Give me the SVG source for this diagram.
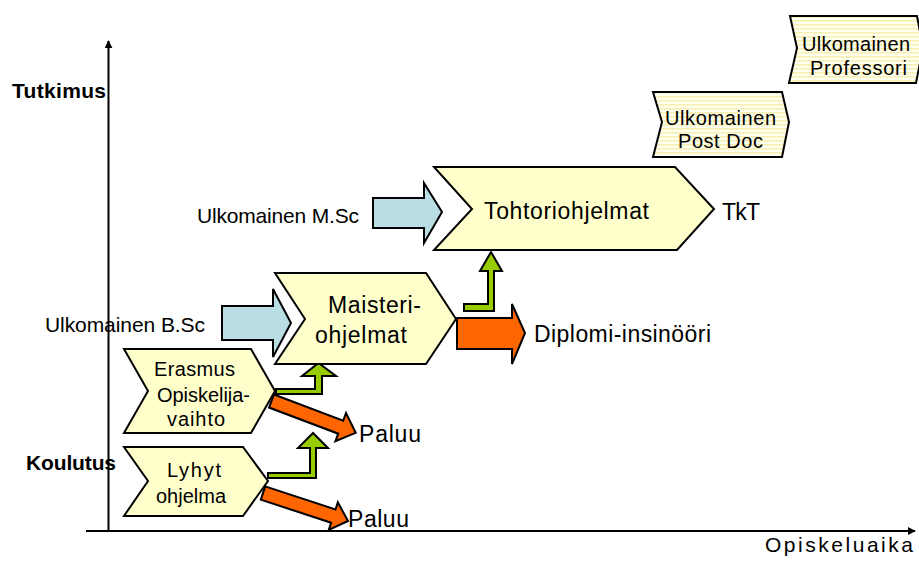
<svg xmlns="http://www.w3.org/2000/svg" width="919" height="564" viewBox="0 0 919 564">
<style>
text{font-family:"Liberation Sans",Arial,sans-serif;fill:#000}
.lbl{font-size:21px}
.sm{font-size:20px}
.big{font-size:23px}
.bold{font-size:21px;font-weight:bold}
.chev{fill:#FFFFCC;stroke:#000;stroke-width:2;stroke-linejoin:miter}
.strip{fill:url(#stripes);stroke:#000;stroke-width:2}
.blue{fill:#B8DEE4;stroke:#000;stroke-width:2}
.orange{fill:#FF6600;stroke:#000;stroke-width:2}
.green{fill:#99CC00;stroke:#000;stroke-width:2}
.axis{stroke:#000;stroke-width:2;fill:none}
</style>
<defs>
<pattern id="stripes" patternUnits="userSpaceOnUse" width="8" height="4">
<rect width="8" height="4" fill="#FFFFF2"/>
<rect y="0" width="8" height="1.6" fill="#F8F0B0"/>
</pattern>
<marker id="ah" viewBox="0 0 10 10" refX="9" refY="5" markerWidth="4" markerHeight="4" orient="auto" markerUnits="strokeWidth">
<path d="M0,0 L10,5 L0,10 Z" fill="#000"/>
</marker>
</defs>
<rect width="919" height="564" fill="#fff"/>

<g id="axes">
<line class="axis" x1="108.5" y1="531" x2="108.5" y2="41" marker-end="url(#ah)"/>
<line class="axis" x1="86" y1="531" x2="915" y2="531" marker-end="url(#ah)"/>
<text class="bold" x="12" y="98" textLength="94" lengthAdjust="spacing">Tutkimus</text>
<text class="bold" x="26" y="470" textLength="90" lengthAdjust="spacing">Koulutus</text>
<text class="lbl" x="765" y="552" textLength="148" lengthAdjust="spacing">Opiskeluaika</text>
</g>

<g id="connectors">
<path class="blue" d="M222,306 L273,306 L273,289 L291,323 L273,357 L273,340 L222,340 Z"/>
<path class="blue" d="M373,198 L424,198 L424,183 L442,212 L424,243 L424,228 L373,228 Z"/>
<path class="orange" d="M457,318 L512,318 L512,304 L525,333 L512,364 L512,349 L457,349 Z"/>
<path class="green" d="M464,304 L488,304 L488,271 L480,271 L491,252 L502,271 L494,271 L494,311 L464,311 Z"/>
<path class="green" d="M276,389 L315,389 L315,376 L302,376 L318.5,363 L336,376 L322,376 L322,394 L276,394 Z"/>
<path class="green" d="M268,473 L310,473 L310,448 L298,448 L313,433 L328,448 L316,448 L316,478 L268,478 Z"/>
<path class="orange" transform="translate(271.5,401) rotate(20.7)" d="M0,-7 L74,-7 L74,-15 L90,0 L74,15 L74,7 L0,7 Z"/>
<path class="orange" transform="translate(263,493) rotate(18.2)" d="M0,-7 L74,-7 L74,-14.5 L89.5,0 L74,14.5 L74,7 L0,7 Z"/>
</g>

<g id="bsc">
<text class="lbl" x="45" y="332" textLength="160" lengthAdjust="spacing">Ulkomainen B.Sc</text>
</g>
<g id="msc">
<text class="lbl" x="197" y="223" textLength="162" lengthAdjust="spacing">Ulkomainen M.Sc</text>
</g>

<g id="maisteri">
<path class="chev" d="M275,273 L426,273 L456,319 L426,364 L275,364 L305,319 Z"/>
<text class="big" x="328" y="313" textLength="93" lengthAdjust="spacing">Maisteri-</text>
<text class="big" x="315" y="343" textLength="92" lengthAdjust="spacing">ohjelmat</text>
</g>

<g id="tohtori">
<path class="chev" d="M434,167 L675,167 L714,209 L677,250 L434,250 L472,209 Z"/>
<text class="big" x="484" y="219" textLength="165" lengthAdjust="spacing">Tohtoriohjelmat</text>
</g>
<g id="tkt">
<text class="big" x="722" y="220" textLength="38" lengthAdjust="spacing">TkT</text>
</g>
<g id="diplomi">
<text class="big" x="534" y="342" textLength="177" lengthAdjust="spacing">Diplomi-insinööri</text>
</g>

<g id="erasmus">
<path class="chev" d="M124,349 L251,349 L275,391 L251,433 L124,433 L148,391 Z"/>
<text class="sm" x="154" y="376" textLength="81" lengthAdjust="spacing">Erasmus</text>
<text class="sm" x="157" y="402" textLength="93" lengthAdjust="spacing">Opiskelija-</text>
<text class="sm" x="167" y="426" textLength="58" lengthAdjust="spacing">vaihto</text>
</g>

<g id="lyhyt">
<path class="chev" d="M124,447 L243,447 L268,481 L243,516 L124,516 L148,481 Z"/>
<text class="sm" x="167" y="477" textLength="54" lengthAdjust="spacing">Lyhyt</text>
<text class="sm" x="156" y="503" textLength="70" lengthAdjust="spacing">ohjelma</text>
</g>

<g id="paluu1">
<text class="big" x="359" y="442" textLength="62" lengthAdjust="spacing">Paluu</text>
</g>
<g id="paluu2">
<text class="big" x="348" y="527" textLength="61" lengthAdjust="spacing">Paluu</text>
</g>

<g id="postdoc">
<path class="strip" d="M653,92 L782,92 L789,122 L782,157 L653,157 L662,122 Z"/>
<text class="sm" x="665" y="125" textLength="111" lengthAdjust="spacing">Ulkomainen</text>
<text class="sm" x="678" y="148" textLength="85" lengthAdjust="spacing">Post Doc</text>
</g>

<g id="professori">
<path class="strip" d="M790,16 L917,16 L923,48 L916,83 L789,83 L797,48 Z"/>
<text class="sm" x="802" y="51" textLength="108" lengthAdjust="spacing">Ulkomainen</text>
<text class="sm" x="810" y="75" textLength="97" lengthAdjust="spacing">Professori</text>
</g>
</svg>
